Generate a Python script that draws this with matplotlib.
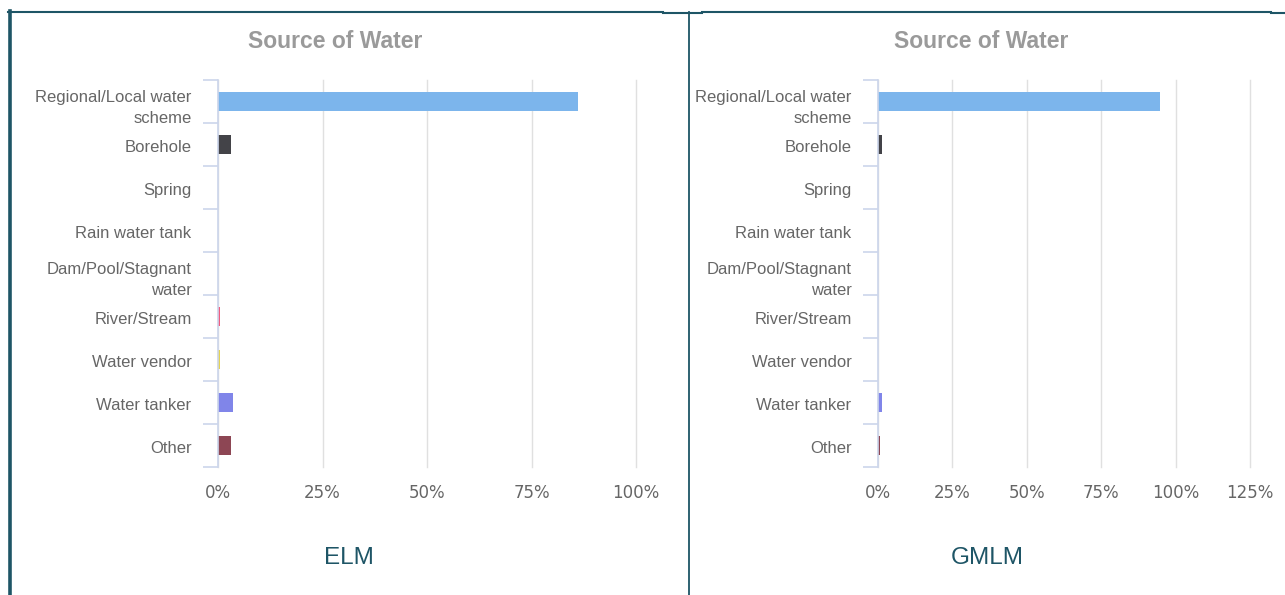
import matplotlib
matplotlib.use("Agg")
import matplotlib.pyplot as plt
from matplotlib.lines import Line2D
from matplotlib.ticker import FixedLocator, PercentFormatter

categories = ["Regional/Local water\nscheme", "Borehole", "Spring", "Rain water tank",
              "Dam/Pool/Stagnant\nwater", "River/Stream", "Water vendor", "Water tanker", "Other"]
bar_colors = ["#7cb5ec", "#434348", "#90ed7d", "#f7a35c", "#8085e9",
              "#f15c80", "#e4d354", "#8085e9", "#8d4654"]

elm_values = [86.1, 3.1, 0.0, 0.0, 0.0, 0.5, 0.5, 3.6, 3.1]
gmlm_values = [94.6, 1.2, 0.0, 0.0, 0.0, 0.0, 0.0, 1.2, 0.6]

panels = [
    {"name": "ELM", "values": elm_values, "ticks": [0, 25, 50, 75, 100],
     "box": (218, 636), "label_x": 349, "title_x": 335},
    {"name": "GMLM", "values": gmlm_values, "ticks": [0, 25, 50, 75, 100, 125],
     "box": (878, 1250), "label_x": 987, "title_x": 981},
]

W, H = 1285, 595
fig = plt.figure(figsize=(W / 100, H / 100), dpi=100)
fig.patch.set_facecolor("white")

AX_TOP, AX_BOT = 80, 467
frame_color = "#1e5566"
axis_color = "#ccd6eb"
grid_color = "#e0e0e0"
text_gray = "#666666"

n = len(categories)
for p in panels:
    x0, x1 = p["box"]
    ax = fig.add_axes([x0 / W, 1 - AX_BOT / H, (x1 - x0) / W, (AX_BOT - AX_TOP) / H])
    ypos = list(range(n))
    ax.barh(ypos, p["values"], height=0.42, color=bar_colors,
            linewidth=0, zorder=3)
    ax.set_ylim(n - 0.5, -0.5)
    ax.set_xlim(0, p["ticks"][-1])
    ax.xaxis.set_major_locator(FixedLocator(p["ticks"]))
    ax.xaxis.set_major_formatter(PercentFormatter(decimals=0))
    ax.grid(axis="x", color=grid_color, linewidth=1.0, zorder=0)
    for gl in ax.get_xgridlines():
        gl.set_clip_on(False)
    for s in ["top", "right", "bottom"]:
        ax.spines[s].set_visible(False)
    ax.spines["left"].set_color(axis_color)
    ax.spines["left"].set_linewidth(1.2)
    ax.spines["left"].set_zorder(4)

    ax.tick_params(axis="x", length=0, pad=12, labelsize=12, labelcolor=text_gray)
    for lab in ax.get_xticklabels():
        lab.set_family("DejaVu Sans")

    # category labels sit a little below the band centres; tick marks at band boundaries
    ax.set_yticks([y + 0.035 for y in ypos])
    ax.set_yticklabels(categories, fontsize=12, color=text_gray,
                       family="Liberation Sans", linespacing=1.55)
    ax.yaxis.set_minor_locator(FixedLocator([i - 0.5 for i in range(n + 1)]))
    ax.tick_params(axis="y", which="major", length=0, pad=19)
    ax.tick_params(axis="y", which="minor", length=11, width=1.2, color=axis_color)

    fig.text(p["title_x"] / W, 1 - 41 / H, "Source of Water", ha="center", va="center",
             fontsize=16.5, fontweight="bold", color="#9a9a9a", family="Liberation Sans")
    fig.text(p["label_x"] / W, 1 - 558 / H, p["name"], ha="center", va="center",
             fontsize=17.5, color=frame_color, family="Liberation Sans")

# panel frame lines
def hline(y, xa, xb, lw):
    fig.add_artist(Line2D([xa / W, xb / W], [1 - y / H, 1 - y / H], color=frame_color,
                          linewidth=lw, transform=fig.transFigure))

def vline(x, ya, yb, lw):
    fig.add_artist(Line2D([x / W, x / W], [1 - ya / H, 1 - yb / H], color=frame_color,
                          linewidth=lw, transform=fig.transFigure))

vline(9.5, 11, 595, 2.6)
hline(11.5, 8, 663, 1.5)
hline(13, 663, 702, 1.5)
hline(12, 702, 1271, 1.5)
hline(13, 1271, 1285, 1.5)
vline(688.5, 12, 595, 1.3)

fig.savefig("out.png", dpi=100, facecolor="white")
